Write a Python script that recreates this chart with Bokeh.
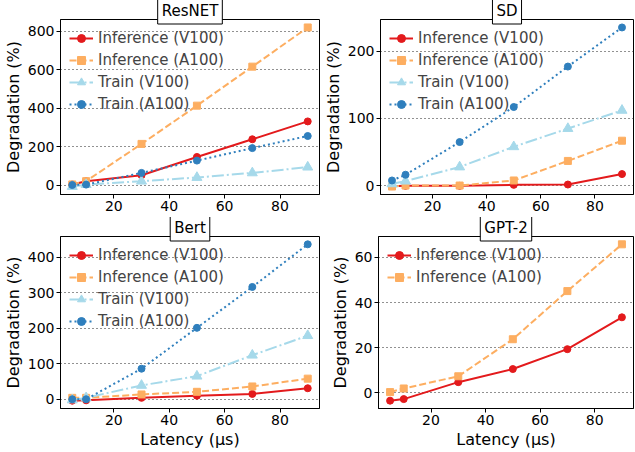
from bokeh.plotting import figure
from bokeh.models import Range1d, FixedTicker, Legend, Title
from bokeh.layouts import column, row
from bokeh.embed import file_html
from bokeh.resources import INLINE

latency = [5, 10, 30, 50, 70, 90]

resnet_inf_v100 = [3, 20, 51, 146, 238, 331]
resnet_inf_a100 = [3, 20, 214, 413, 616, 820]
resnet_train_v100 = [-8, 2, 20, 39, 63, 93]
resnet_train_a100 = [0, 2, 63, 127, 192, 255]

sd_inf_v100 = [-0.5, 0, 0, 1.5, 2, 17.5]
sd_inf_a100 = [-1, 0.5, 0.5, 8, 37, 67]
sd_train_v100 = [3, 7, 28, 58, 85, 112]
sd_train_a100 = [8, 16.5, 65, 117, 177, 235]

bert_inf_v100 = [-4, -3, 4, 10, 15, 31]
bert_inf_a100 = [4, 4, 13.5, 21, 36, 58]
bert_train_v100 = [-2, 4, 39, 65, 124, 179]
bert_train_a100 = [0, 0, 86, 201, 316, 436]

gpt2_inf_v100 = [-3.4, -2.7, 4.8, 10.6, 19.4, 33.5]
gpt2_inf_a100 = [0.4, 2.0, 7.4, 23.8, 45.1, 65.8]

x_ticks = [20, 40, 60, 80]
series_names = ["Inference (V100)", "Inference (A100)", "Train (V100)", "Train (A100)"]

STYLES = {
    "Inference (V100)": dict(color="#e31a1c", dash="solid", marker="circle", size=7),
    "Inference (A100)": dict(color="#fdae61", dash="7 3", marker="square", size=7),
    "Train (V100)": dict(color="#a6d9ea", dash="12 3 2 3", marker="triangle", size=10),
    "Train (A100)": dict(color="#2f7fbd", dash="2 3", marker="circle", size=7),
}

FONT = "DejaVu Sans"


def make_panel(title, series, yticks, left, right, top, bottom, width, height, xlabel):
    allv = [v for s in series for v in s]
    ymin, ymax = min(allv), max(allv)
    pad = (ymax - ymin) * 0.05
    xpad = (max(latency) - min(latency)) * 0.05
    p = figure(width=width, height=height, output_backend="svg", toolbar_location=None,
               x_range=Range1d(min(latency) - xpad, max(latency) + xpad),
               y_range=Range1d(ymin - pad, ymax + pad),
               min_border_left=left, min_border_right=right,
               min_border_top=top, min_border_bottom=bottom)
    p.title = Title(text=title, align="center", vertical_align="bottom", standoff=-9,
                    text_font=FONT, text_font_size="15px", text_font_style="normal",
                    text_color="black", background_fill_color="white",
                    border_line_color="black", border_line_width=1, padding=4)
    p.outline_line_color = "black"
    p.outline_line_width = 1
    p.outline_line_alpha = 1
    p.background_fill_color = "white"
    p.xgrid.visible = False
    p.ygrid.grid_line_color = "#222222"
    p.ygrid.grid_line_dash = "1 3"
    p.ygrid.grid_line_width = 1.2
    p.xaxis.ticker = FixedTicker(ticks=x_ticks)
    p.yaxis.ticker = FixedTicker(ticks=yticks)
    for ax in (p.xaxis[0], p.yaxis[0]):
        ax.major_label_text_font = FONT
        ax.major_label_text_font_size = "14px"
        ax.major_label_text_color = "black"
        ax.axis_label_text_font = FONT
        ax.axis_label_text_font_size = "16px"
        ax.axis_label_text_font_style = "normal"
        ax.axis_label_text_color = "black"
        ax.major_tick_out = 4
        ax.major_tick_in = 0
        ax.minor_tick_out = 0
        ax.minor_tick_in = 0
        ax.axis_line_color = "black"
        ax.major_tick_line_color = "black"
        ax.major_label_standoff = 2
        ax.axis_label_standoff = 2
    p.yaxis.axis_label = "Degradation (%)"
    if xlabel:
        p.xaxis.axis_label = "Latency (μs)"
    items = []
    for name, ys in zip(series_names, series):
        st = STYLES[name]
        r1 = p.line(latency, ys, line_color=st["color"], line_width=2, line_dash=st["dash"])
        r2 = p.scatter(latency, ys, marker=st["marker"], size=st["size"],
                       fill_color=st["color"], line_color=st["color"])
        items.append((name, [r1, r2]))
    legend = Legend(items=items, location="top_left")
    legend.background_fill_alpha = 0
    legend.border_line_alpha = 0
    legend.label_text_font = FONT
    legend.label_text_font_size = "15px"
    legend.label_height = 20
    legend.glyph_height = 20
    legend.glyph_width = 24
    legend.label_standoff = 5
    legend.spacing = 2
    legend.padding = 9
    legend.margin = 0
    p.add_layout(legend)
    return p


p1 = make_panel("ResNET", [resnet_inf_v100, resnet_inf_a100, resnet_train_v100, resnet_train_a100],
                [0, 200, 400, 600, 800], 59, 1, 16, 23, 320, 217, False)
p2 = make_panel("SD", [sd_inf_v100, sd_inf_a100, sd_train_v100, sd_train_a100],
                [0, 100, 200], 58, 1, 16, 23, 314, 217, False)
p3 = make_panel("Bert", [bert_inf_v100, bert_inf_a100, bert_train_v100, bert_train_a100],
                [0, 100, 200, 300, 400], 59, 1, 16, 41, 320, 234, True)
p4 = make_panel("GPT-2", [gpt2_inf_v100, gpt2_inf_a100],
                [0, 20, 40, 60], 58, 1, 16, 41, 314, 234, True)

layout = column(row(p1, p2), row(p3, p4))
open("out.html", "w").write(file_html(layout, INLINE))
